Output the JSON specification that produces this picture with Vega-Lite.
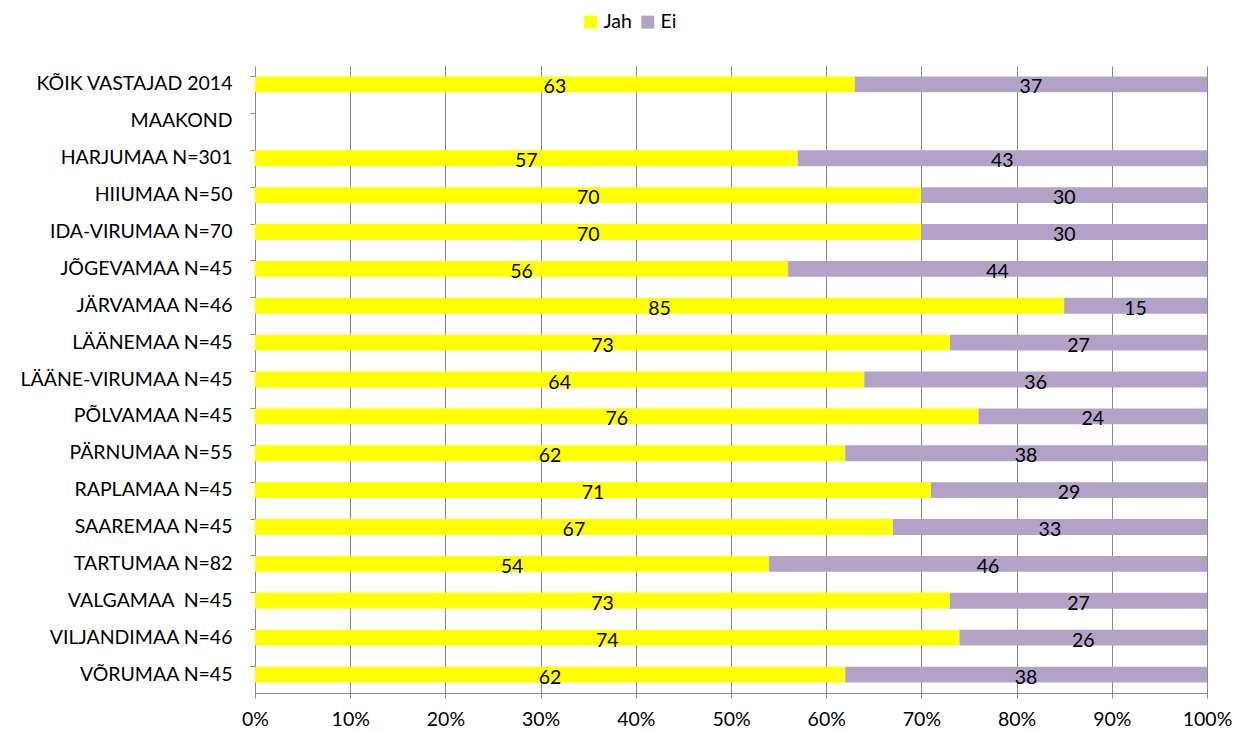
{
  "$schema": "https://vega.github.io/schema/vega-lite/v6.json",
  "width": 952,
  "height": 627,
  "autosize": {"type": "none"},
  "padding": {"left": 255, "top": 66, "right": 29, "bottom": 40},
  "background": "white",
  "config": {
    "view": {"stroke": null},
    "font": "Lato",
    "axis": {"labelFont": "Lato", "labelColor": "#000000"}
  },
  "data": {
    "values": [
      {"cat": "KÕIK VASTAJAD 2014", "answer": "Jah", "value": 63},
      {"cat": "KÕIK VASTAJAD 2014", "answer": "Ei", "value": 37},
      {"cat": "HARJUMAA N=301", "answer": "Jah", "value": 57},
      {"cat": "HARJUMAA N=301", "answer": "Ei", "value": 43},
      {"cat": "HIIUMAA N=50", "answer": "Jah", "value": 70},
      {"cat": "HIIUMAA N=50", "answer": "Ei", "value": 30},
      {"cat": "IDA-VIRUMAA N=70", "answer": "Jah", "value": 70},
      {"cat": "IDA-VIRUMAA N=70", "answer": "Ei", "value": 30},
      {"cat": "JÕGEVAMAA N=45", "answer": "Jah", "value": 56},
      {"cat": "JÕGEVAMAA N=45", "answer": "Ei", "value": 44},
      {"cat": "JÄRVAMAA N=46", "answer": "Jah", "value": 85},
      {"cat": "JÄRVAMAA N=46", "answer": "Ei", "value": 15},
      {"cat": "LÄÄNEMAA N=45", "answer": "Jah", "value": 73},
      {"cat": "LÄÄNEMAA N=45", "answer": "Ei", "value": 27},
      {"cat": "LÄÄNE-VIRUMAA N=45", "answer": "Jah", "value": 64},
      {"cat": "LÄÄNE-VIRUMAA N=45", "answer": "Ei", "value": 36},
      {"cat": "PÕLVAMAA N=45", "answer": "Jah", "value": 76},
      {"cat": "PÕLVAMAA N=45", "answer": "Ei", "value": 24},
      {"cat": "PÄRNUMAA N=55", "answer": "Jah", "value": 62},
      {"cat": "PÄRNUMAA N=55", "answer": "Ei", "value": 38},
      {"cat": "RAPLAMAA N=45", "answer": "Jah", "value": 71},
      {"cat": "RAPLAMAA N=45", "answer": "Ei", "value": 29},
      {"cat": "SAAREMAA N=45", "answer": "Jah", "value": 67},
      {"cat": "SAAREMAA N=45", "answer": "Ei", "value": 33},
      {"cat": "TARTUMAA N=82", "answer": "Jah", "value": 54},
      {"cat": "TARTUMAA N=82", "answer": "Ei", "value": 46},
      {"cat": "VALGAMAA \u00a0N=45", "answer": "Jah", "value": 73},
      {"cat": "VALGAMAA \u00a0N=45", "answer": "Ei", "value": 27},
      {"cat": "VILJANDIMAA N=46", "answer": "Jah", "value": 74},
      {"cat": "VILJANDIMAA N=46", "answer": "Ei", "value": 26},
      {"cat": "VÕRUMAA N=45", "answer": "Jah", "value": 62},
      {"cat": "VÕRUMAA N=45", "answer": "Ei", "value": 38}
    ]
  },
  "encoding": {
    "y": {
      "field": "cat",
      "type": "nominal",
      "title": null,
      "scale": {
        "domain": ["KÕIK VASTAJAD 2014", "MAAKOND", "HARJUMAA N=301", "HIIUMAA N=50", "IDA-VIRUMAA N=70", "JÕGEVAMAA N=45", "JÄRVAMAA N=46", "LÄÄNEMAA N=45", "LÄÄNE-VIRUMAA N=45", "PÕLVAMAA N=45", "PÄRNUMAA N=55", "RAPLAMAA N=45", "SAAREMAA N=45", "TARTUMAA N=82", "VALGAMAA \u00a0N=45", "VILJANDIMAA N=46", "VÕRUMAA N=45"],
        "paddingInner": 0.57,
        "paddingOuter": 0.285
      },
      "axis": {
        "labelFontSize": 19.5,
        "labelPadding": 18,
        "labelLimit": 400,
        "tickSize": 5,
        "tickColor": "#888888",
        "domainColor": "#888888",
        "bandPosition": 0,
        "labelOffset": 0,
        "grid": false
      }
    }
  },
  "layer": [
    {
      "mark": {"type": "bar"},
      "encoding": {
        "x": {
          "field": "value",
          "type": "quantitative",
          "stack": "zero",
          "title": null,
          "scale": {"domain": [0, 100]},
          "axis": {
            "values": [0, 10, 20, 30, 40, 50, 60, 70, 80, 90, 100],
            "labelExpr": "datum.value + '%'",
            "labelFontSize": 19.5,
            "labelPadding": 12,
            "labelFlush": false,
            "tickSize": 5,
            "tickColor": "#888888",
            "domainColor": "#888888",
            "grid": true,
            "gridColor": "#888888",
            "gridWidth": 1
          }
        },
        "color": {
          "field": "answer",
          "type": "nominal",
          "sort": ["Jah", "Ei"],
          "scale": {"domain": ["Jah", "Ei"], "range": ["#FFFF00", "#B3A2C7"]},
          "legend": {
            "title": null,
            "orient": "none",
            "direction": "horizontal",
            "legendX": 326,
            "legendY": -54,
            "symbolType": "square",
            "symbolSize": 169,
            "symbolStrokeWidth": 0,
            "labelFontSize": 19.5,
            "labelFont": "Lato",
            "labelColor": "#000000",
            "columnPadding": 6,
            "labelOffset": 3
          }
        },
        "order": {"field": "answer", "sort": "descending"}
      }
    },
    {
      "mark": {"type": "text", "fontSize": 19.5, "color": "#000000", "dy": 3},
      "encoding": {
        "x": {
          "field": "value",
          "type": "quantitative",
          "stack": "zero",
          "bandPosition": 0.5
        },
        "text": {"field": "value", "type": "quantitative"},
        "order": {"field": "answer", "sort": "descending"}
      }
    }
  ]
}
